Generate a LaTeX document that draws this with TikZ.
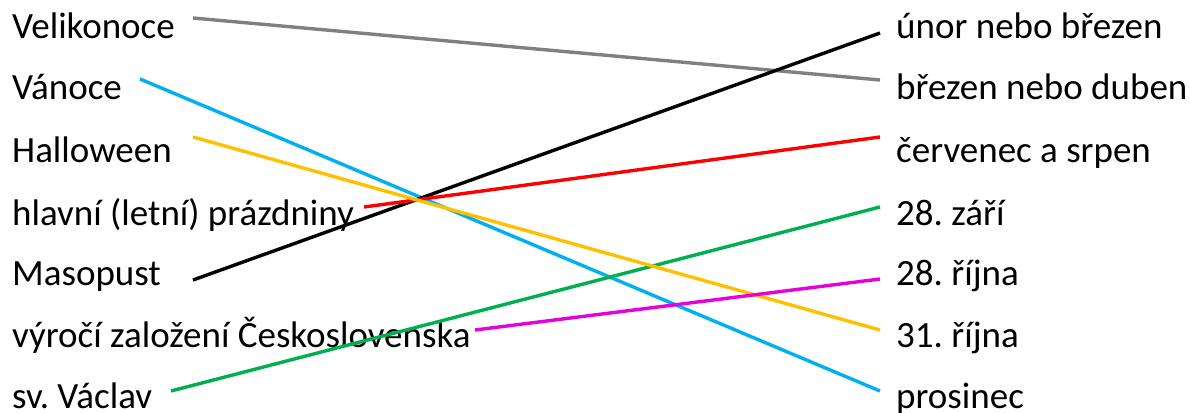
\documentclass[tikz,border=0pt]{standalone}
\usepackage{fontspec}
\setmainfont{Carlito}
\frenchspacing
\definecolor{cgray}{RGB}{128,128,128}
\definecolor{cblue}{RGB}{0,176,240}
\definecolor{corange}{RGB}{255,192,0}
\definecolor{cred}{RGB}{255,0,0}
\definecolor{cgreen}{RGB}{0,176,80}
\definecolor{cmagenta}{RGB}{230,0,220}
\begin{document}
\begin{tikzpicture}[x=1pt,y=-1pt,
  lbl/.style={anchor=base west,inner sep=0pt,font=\fontsize{37}{44}\selectfont},
  conn/.style={line width=3.4pt}]
\useasboundingbox (0,0) rectangle (1190,412);
% left column
\node[lbl] (velikonoce) at (12,39) {Velikonoce};
\node[lbl] (vanoce) at (12,99) {Vánoce};
\node[lbl] (halloween) at (12,162) {Halloween};
\node[lbl] (prazdniny) at (12,225) {hlavní (letní) prázdniny};
\node[lbl] (masopust) at (12,285) {Masopust};
\node[lbl] (vyroci) at (12,347) {výročí založení Československa};
\node[lbl] (vaclav) at (12,408) {sv. Václav};
% right column
\node[lbl] (unor) at (896,39) {únor nebo březen};
\node[lbl] (brezen) at (896,99) {březen nebo duben};
\node[lbl] (cervenec) at (896,162) {červenec a srpen};
\node[lbl] (zari) at (896,225) {28. září};
\node[lbl] (rijna28) at (896,285) {28. října};
\node[lbl] (rijna31) at (896,347) {31. října};
\node[lbl] (prosinec) at (896,408) {prosinec};
% connector end points
\coordinate (pVel) at (193,18);
\coordinate (pVan) at (140,79);
\coordinate (pHal) at (193,137);
\coordinate (pPra) at (364,207);
\coordinate (pMas) at (193,280);
\coordinate (pVyr) at (475,330);
\coordinate (pVac) at (171,391);
\coordinate (qUno) at (880,33);
\coordinate (qBre) at (880,80);
\coordinate (qCer) at (880,137);
\coordinate (qZar) at (880,207);
\coordinate (qR28) at (880,279);
\coordinate (qR31) at (880,330);
\coordinate (qPro) at (880,391);
% connectors
\draw[conn,cgray] (pVel) -- (qBre);
\draw[conn,cblue] (pVan) -- (qPro);
\draw[conn,black] (pMas) -- (qUno);
\draw[conn,cred] (pPra) -- (qCer);
\draw[conn,cgreen] (pVac) -- (qZar);
\draw[conn,corange] (pHal) -- (qR31);
\draw[conn,cmagenta] (pVyr) -- (qR28);
\end{tikzpicture}
\end{document}
